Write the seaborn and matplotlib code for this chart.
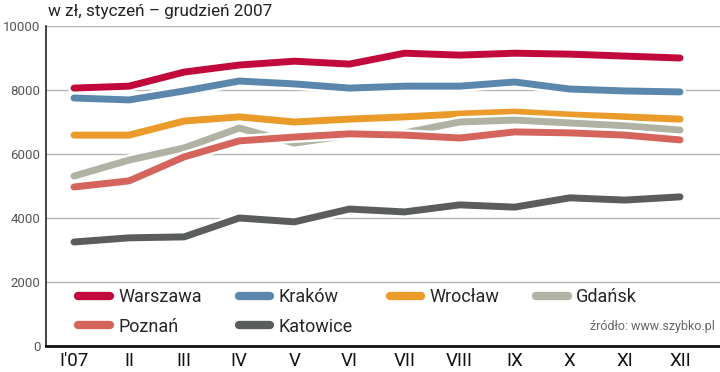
import matplotlib
matplotlib.use("Agg")
import matplotlib.pyplot as plt
import matplotlib.patheffects as pe
import seaborn as sns
import pandas as pd

miesiace = ["I'07", "II", "III", "IV", "V", "VI", "VII", "VIII", "IX", "X", "XI", "XII"]

warszawa = [8060, 8120, 8560, 8780, 8900, 8810, 9150, 9090, 9150, 9120, 9060, 9000]
krakow = [7750, 7690, 7970, 8280, 8190, 8060, 8120, 8120, 8250, 8030, 7970, 7940]
wroclaw = [6590, 6590, 7030, 7160, 7000, 7090, 7160, 7250, 7310, 7220, 7160, 7090]
gdansk = [5310, 5810, 6190, 6810, 6340, 6590, 6660, 7000, 7060, 6970, 6880, 6750]
poznan = [4970, 5160, 5910, 6410, 6530, 6630, 6590, 6500, 6690, 6660, 6590, 6440]
katowice = [3250, 3380, 3410, 4000, 3880, 4280, 4190, 4410, 4340, 4630, 4560, 4660]

miasta = ["Warszawa", "Kraków", "Wrocław", "Gdańsk", "Poznań", "Katowice"]
kolory = ["#c10a3b", "#5b87ad", "#ea9b2a", "#b0b3a4", "#d4645c", "#5b5d5d"]

serie = [warszawa, krakow, wroclaw, gdansk, poznan, katowice]
rows = []
for m, s in zip(miasta, serie):
    for i, v in enumerate(s):
        rows.append({"miasto": m, "nr": i, "cena": v})
df = pd.DataFrame(rows)

sns.set_style("white")
plt.rcParams["font.family"] = ["Roboto", "DejaVu Sans"]

fig = plt.figure(figsize=(7.2, 3.72), dpi=100)
ax = fig.add_axes([46 / 720, 1 - 346 / 372, 1 - 46 / 720, 320 / 372])

sns.lineplot(data=df, x="nr", y="cena", hue="miasto", hue_order=miasta,
             palette=kolory, linewidth=5, ax=ax, legend=True)

for line in ax.lines:
    line.set_solid_capstyle("round")
    line.set_solid_joinstyle("round")
    line.set_path_effects([pe.Stroke(linewidth=8.5, foreground="white"), pe.Normal()])

ax.set_xlim(-0.508, 11.726)
ax.set_ylim(0, 10000)
ax.set_yticks(range(0, 10001, 2000))
ax.set_xticks(range(12))
ax.set_xticklabels(miesiace, fontsize=13.5, color="#111111")
ax.tick_params(axis="y", labelsize=9.5, labelcolor="#555555", length=0, pad=4)
ax.tick_params(axis="x", length=0, pad=4)
ax.grid(axis="y", color="#b5b5b5", linewidth=1)
ax.set_axisbelow(True)
ax.set_xlabel("")
ax.set_ylabel("")

for s in ["top", "right"]:
    ax.spines[s].set_visible(False)
ax.spines["left"].set_color("#222222")
ax.spines["left"].set_linewidth(1.2)
ax.spines["bottom"].set_color("#111111")
ax.spines["bottom"].set_linewidth(2)

h, l = ax.get_legend_handles_labels()
d = dict(zip(l, h))
kolejnosc = ["Warszawa", "Poznań", "Kraków", "Katowice", "Wrocław", "Gdańsk"]
leg = ax.legend([d[k] for k in kolejnosc], kolejnosc, ncol=4, frameon=False,
                loc="upper left", bbox_to_anchor=(0.024, 0.231), fontsize=13,
                handlelength=1.75, handletextpad=0.45, columnspacing=2.05,
                labelspacing=0.62)
for hl in leg.get_lines():
    hl.set_linewidth(6)
    hl.set_solid_capstyle("round")
    hl.set_path_effects([])

fig.text(0.067, 0.968, "w zł, styczeń – grudzień 2007", fontsize=12.3,
         color="#222222", va="center", ha="left")
ax.text(0.993, 0.04, "źródło: www.szybko.pl", transform=ax.transAxes,
        fontsize=9, color="#666666", ha="right", va="bottom")

fig.savefig("out.png", dpi=100)
